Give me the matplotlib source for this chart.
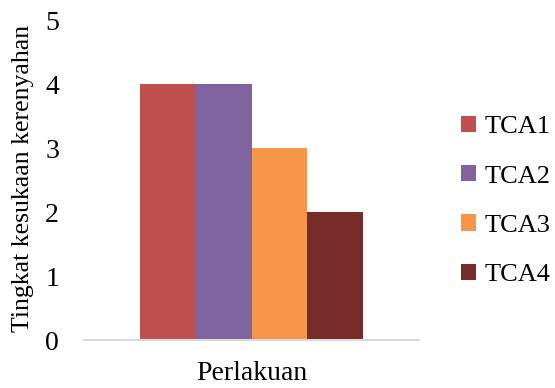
import matplotlib.pyplot as plt
import numpy as np

series = ['TCA1', 'TCA2', 'TCA3', 'TCA4']
values = [4, 4, 3, 2]
colors = ['#c0504d', '#8064a2', '#f79646', '#772c2a']
category = 'Perlakuan'
yticks = [0, 1, 2, 3, 4, 5]

plt.rcParams['font.family'] = ['Liberation Serif', 'DejaVu Serif']

fig = plt.figure(figsize=(5.55, 3.88), dpi=100)
ax = fig.add_axes([84/555, 1 - 340/388, 335/555, 320/388])

w = 0.167
offsets = (np.arange(len(series)) - 1.5) * w
for i in range(len(series)):
    ax.bar(offsets[i], values[i], width=w, color=colors[i], label=series[i])

ax.set_xlim(-0.5, 0.5)
ax.set_ylim(0, 5)
ax.set_yticks(yticks)
ax.set_xticks([0])
ax.set_xticklabels([category], fontsize=20)
ax.tick_params(axis='both', length=0)
ax.tick_params(axis='y', pad=18, labelsize=20)
ax.tick_params(axis='x', pad=15)
for s in ['top', 'right', 'left']:
    ax.spines[s].set_visible(False)
ax.spines['bottom'].set_color('#d9d9d9')
ax.spines['bottom'].set_linewidth(1.5)

ax.set_ylabel('Tingkat kesukaan kerenyahan', fontsize=18.5)
ax.yaxis.set_label_coords(-50/335, 0.505)

ax.legend(loc='center left', bbox_to_anchor=(437/555, 1 - 201/388), bbox_transform=fig.transFigure,
          frameon=False, fontsize=19, handlelength=0.57, handleheight=0.57,
          handletextpad=0.34, labelspacing=1.02)

fig.savefig('out.png', dpi=100)
